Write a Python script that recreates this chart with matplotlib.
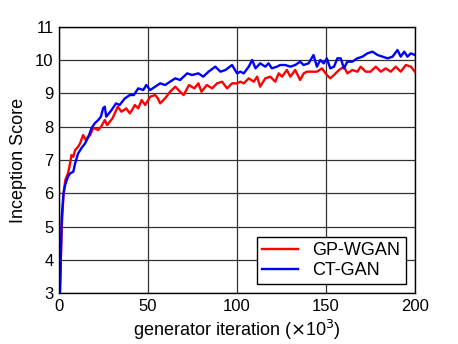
import matplotlib
matplotlib.use("Agg")
import matplotlib.pyplot as plt

plt.rcParams['font.family'] = ['Liberation Sans', 'DejaVu Sans']

# generator iteration (x10^3) and inception score
gp_iter = [0.5, 1.5, 2.5, 3.5, 5, 6, 7, 8, 9, 10.7, 11.8, 13.5, 15, 16.3, 17.5, 19, 20,
           22, 23.6, 25.7, 27, 28.5, 30, 31.3, 33, 35, 36.5, 37.7, 39.8, 41, 42.6, 44.5,
           46.4, 48.4, 51.2, 54, 55.5, 56.8, 59.6, 62.4, 65.3, 68, 70, 73, 76, 78.3, 80,
           83, 86, 88.8, 91.6, 94.4, 97.2, 100, 101.9, 103.8, 106.6, 109.4, 111.3, 113,
           115.9, 118.7, 121.5, 123.4, 125.3, 128, 130, 132.7, 135.5, 137.5, 139.3, 142,
           145, 147.7, 150.5, 152.4, 154.5, 157.3, 160.1, 162, 164.8, 167.6, 169.5, 172.3,
           175, 178, 180.8, 183.6, 186.4, 189.2, 192, 194.9, 197.7, 200]
gp_score = [3.1, 5.0, 6.0, 6.4, 6.6, 6.85, 7.15, 7.1, 7.3, 7.4, 7.5, 7.75, 7.6, 7.7, 7.75,
            7.95, 7.95, 7.9, 8.0, 8.2, 8.05, 8.15, 8.25, 8.4, 8.6, 8.45, 8.5, 8.55, 8.4,
            8.5, 8.65, 8.55, 8.8, 8.65, 8.9, 8.95, 8.85, 8.7, 8.85, 9.05, 9.2, 9.05, 8.95,
            9.25, 9.15, 9.3, 9.05, 9.25, 9.15, 9.3, 9.35, 9.15, 9.3, 9.3, 9.35, 9.3, 9.45,
            9.35, 9.5, 9.2, 9.45, 9.5, 9.35, 9.6, 9.5, 9.7, 9.5, 9.7, 9.4, 9.6, 9.65, 9.65,
            9.65, 9.75, 9.55, 9.45, 9.55, 9.7, 9.8, 9.6, 9.7, 9.65, 9.8, 9.65, 9.65, 9.8,
            9.65, 9.75, 9.65, 9.8, 9.65, 9.85, 9.8, 9.65]

ct_iter = [0.5, 1.5, 2.5, 3.4, 5, 6.2, 8, 9, 10.7, 12.5, 14.6, 16.5, 18.2, 20, 22, 23.5,
           24.8, 25.7, 26.5, 28, 29.5, 32, 34, 37, 39.8, 42, 44.5, 47.3, 49, 51.2, 54,
           56.8, 59.6, 62.4, 65.3, 68, 72, 74.7, 78.3, 81, 84, 87.8, 90.7, 93.5, 97.2,
           100, 101.9, 103.8, 106.6, 108.5, 110.4, 113, 115.9, 117.7, 119.6, 122.4, 124.3,
           127.1, 130, 132.7, 135.5, 137.4, 140.2, 143, 144.9, 146.8, 148.7, 150.5, 152.4,
           154.5, 156.4, 158.3, 160.1, 162, 164.8, 167.6, 170.5, 173.3, 176.1, 179, 181.8,
           184.6, 187.4, 190.2, 192, 194, 195.8, 197.7, 200]
ct_score = [3.0, 5.3, 6.0, 6.25, 6.5, 6.6, 6.65, 6.9, 7.2, 7.35, 7.5, 7.7, 7.95, 8.1, 8.2,
            8.3, 8.56, 8.6, 8.3, 8.4, 8.5, 8.7, 8.65, 8.85, 8.95, 8.95, 9.15, 9.1, 9.25,
            9.1, 9.2, 9.3, 9.25, 9.35, 9.45, 9.4, 9.6, 9.55, 9.6, 9.5, 9.65, 9.8, 9.65,
            9.7, 9.85, 9.6, 9.65, 9.6, 9.8, 10.0, 9.75, 9.9, 9.8, 9.9, 9.75, 9.8, 9.85,
            9.85, 9.8, 9.85, 9.95, 9.85, 9.9, 10.15, 9.8, 10.0, 9.9, 10.05, 9.75, 9.8,
            10.05, 10.05, 9.75, 9.95, 9.95, 10.05, 10.1, 10.2, 10.25, 10.15, 10.1, 10.05,
            10.1, 10.3, 10.1, 10.25, 10.1, 10.2, 10.15]

fig = plt.figure(figsize=(4.58, 3.44), dpi=100)
ax = fig.add_axes([0.129, 0.147, 0.777, 0.7755])

ax.plot(gp_iter, gp_score, color='red', lw=1.7, label='GP-WGAN')
ax.plot(ct_iter, ct_score, color='blue', lw=1.7, label='CT-GAN')

ax.set_xlim(0, 200)
ax.set_ylim(3, 11)
ax.set_xticks([0, 50, 100, 150, 200])
ax.set_yticks(range(3, 12))
ax.grid(True, color='#333333', lw=0.9)
ax.set_axisbelow(True)
ax.tick_params(direction='in', labelsize=12, length=0, pad=4)
for s in ax.spines.values():
    s.set_color('black')
    s.set_linewidth(1.0)

ax.set_xlabel(r'generator iteration ($\times$10$^3$)', fontsize=13, labelpad=3)
ax.set_ylabel('Inception Score', fontsize=13, labelpad=6)

leg = ax.legend(loc='lower right', fontsize=13, fancybox=False, framealpha=1,
                edgecolor='black', borderpad=0.3, handlelength=2.0,
                labelspacing=0.15, borderaxespad=0.5)
leg.get_frame().set_linewidth(1.0)

fig.savefig('out.png', dpi=100)
